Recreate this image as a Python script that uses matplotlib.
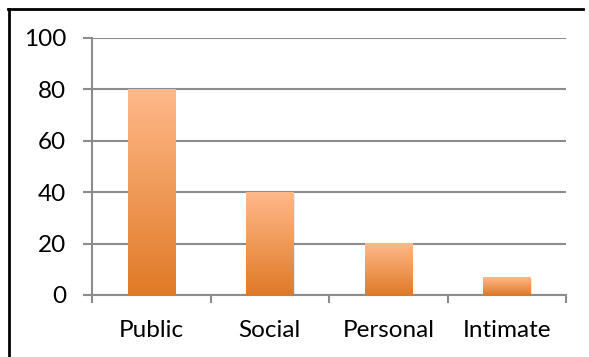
import numpy as np
import matplotlib.pyplot as plt
from matplotlib.colors import LinearSegmentedColormap
from matplotlib.lines import Line2D

categories = ["Public", "Social", "Personal", "Intimate"]
values = [80, 40, 20, 7]
y_ticks = [0, 20, 40, 60, 80, 100]

GRID = "#8c8c8c"
TOP = "#ffb98a"
BOTTOM = "#e07a26"

plt.rcParams["font.family"] = ["Lato", "DejaVu Sans"]

fig = plt.figure(figsize=(5.89, 3.57), dpi=100)
ax = fig.add_axes([0.1562, 0.1737, 0.8048, 0.7199])

x = np.arange(len(categories))
width = 0.4
bars = ax.bar(x, values, width, color="none", zorder=3)

# vertical gradient inside each bar, light at the top
cmap = LinearSegmentedColormap.from_list("bar", [BOTTOM, TOP])
grad = np.linspace(0, 1, 256).reshape(-1, 1)
for b in bars:
    x0, y0 = b.get_x(), b.get_y()
    w, h = b.get_width(), b.get_height()
    # faint shadow
    ax.bar(x0 + w / 2 + 0.01, h, w, bottom=y0 - 0.8, color="#000000",
           alpha=0.08, zorder=2)
    ax.imshow(grad, cmap=cmap, origin="lower", aspect="auto",
              extent=(x0, x0 + w, y0, y0 + h), zorder=3)

ax.set_xlim(-0.5, len(categories) - 0.5)
ax.set_ylim(0, 100)
ax.set_yticks(y_ticks)
ax.grid(axis="y", color=GRID, linewidth=1.5, zorder=1)
ax.set_axisbelow(True)

ax.set_xticks(x)
ax.set_xticklabels(categories)
ax.set_xticks(np.arange(len(categories) + 1) - 0.5, minor=True)
ax.tick_params(axis="x", which="major", length=0, pad=18, labelsize=17.5)
ax.tick_params(axis="x", which="minor", length=5.5, width=1.5, color=GRID)
ax.tick_params(axis="y", length=6.5, width=1.5, color=GRID, pad=12,
               labelsize=17.5)

for side in ["top", "right"]:
    ax.spines[side].set_visible(False)
for side in ["left", "bottom"]:
    ax.spines[side].set_color(GRID)
    ax.spines[side].set_linewidth(1.5)

# outer frame of the original image (cut off at right and bottom)
fig.add_artist(Line2D([8 / 589, 583 / 589], [1 - 9 / 357, 1 - 9 / 357],
                      color="black", linewidth=2))
fig.add_artist(Line2D([9 / 589, 9 / 589], [0, 1 - 9 / 357],
                      color="black", linewidth=2))

fig.savefig("out.png", dpi=100)
